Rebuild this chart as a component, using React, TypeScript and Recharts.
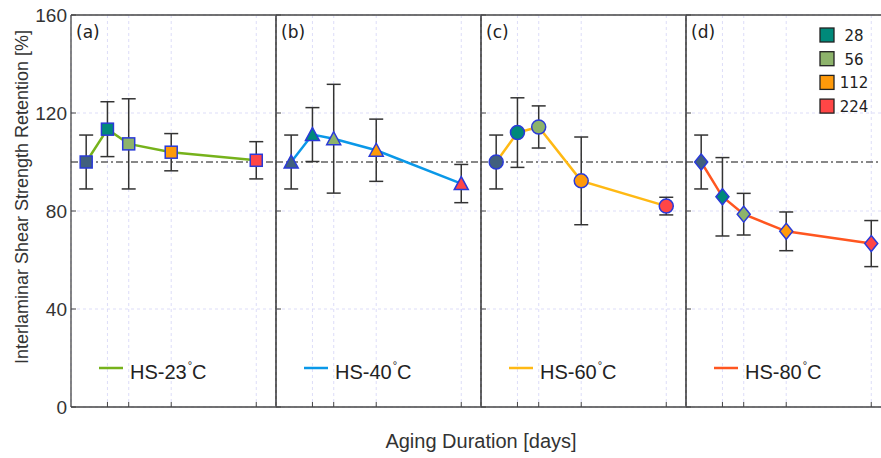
import React from "react";
import { LineChart, Line, XAxis, YAxis, CartesianGrid, ReferenceLine, ErrorBar, Label } from "recharts";

// aging days and per-panel retention values (%) with +/- error
const days = [0, 28, 56, 112, 224];
const dayTicks = [28, 56, 112, 224];
const yTicks = [0, 40, 80, 120, 160];
const legendDays = ["28", "56", "112", "224"];

const hs23 = [100, 113.4, 107.4, 104, 100.7];
const hs23Err = [11, 11.2, 18.4, 7.6, 7.6];
const hs40 = [100, 111.2, 109.5, 104.8, 91.2];
const hs40Err = [11, 11, 22.2, 12.7, 7.8];
const hs60 = [100, 112, 114.3, 92.3, 82];
const hs60Err = [11, 14.2, 8.6, 17.9, 3.6];
const hs80 = [100, 85.8, 78.7, 71.7, 66.7];
const hs80Err = [11, 16, 8.5, 7.9, 9.4];

const markerFills = ["#41607e", "#00897a", "#8db36b", "#ff9a0a", "#ff4646"];
const markerEdge = "#2a3ad8";

const PANEL_W = 205;
const LEFT = 71;
const TOP = 15;
const BOTTOM = 407;

const panels = [
  { tag: "(a)", name: "HS-23", values: hs23, errors: hs23Err, color: "#76b21b", shape: "square" },
  { tag: "(b)", name: "HS-40", values: hs40, errors: hs40Err, color: "#0a98e8", shape: "triangle" },
  { tag: "(c)", name: "HS-60", values: hs60, errors: hs60Err, color: "#ffb914", shape: "circle" },
  { tag: "(d)", name: "HS-80", values: hs80, errors: hs80Err, color: "#ff5620", shape: "diamond" },
];

const font = "'Liberation Sans', Arial, sans-serif";
const axisColor = "#444";

function Marker({ cx, cy, index, shape }: any) {
  const fill = markerFills[index];
  const common = { fill, stroke: markerEdge, strokeWidth: 1.5 };
  if (cx == null || cy == null) return null;
  if (shape === "square") return <rect x={cx - 6} y={cy - 6} width={12} height={12} {...common} />;
  if (shape === "triangle")
    return <polygon points={`${cx},${cy - 7} ${cx - 7},${cy + 6} ${cx + 7},${cy + 6}`} {...common} />;
  if (shape === "circle") return <circle cx={cx} cy={cy} r={7} {...common} />;
  return <polygon points={`${cx},${cy - 8} ${cx + 6.5},${cy} ${cx},${cy + 8} ${cx - 6.5},${cy}`} {...common} />;
}

function Panel({ p, i }: any) {
  const rows = days.map((d, k) => ({ day: d, v: p.values[k], err: p.errors[k] }));
  return (
    <div style={{ position: "absolute", left: i * PANEL_W, top: 0 }}>
      <LineChart width={LEFT + PANEL_W + 5} height={458} data={rows} margin={{ top: 0, right: 0, bottom: 0, left: 0 }}>
        <CartesianGrid stroke="#d4d4f6" strokeDasharray="3 3" strokeWidth={0.8} />
        <XAxis
          dataKey="day"
          type="number"
          domain={[-20, 250]}
          ticks={dayTicks}
          tickFormatter={() => ""}
          tickSize={-5}
          height={458 - BOTTOM}
          axisLine={{ stroke: axisColor, strokeWidth: 1.3 }}
          tickLine={{ stroke: axisColor }}
        />
        <XAxis
          xAxisId="top"
          orientation="top"
          type="number"
          domain={[-20, 250]}
          ticks={dayTicks}
          tickFormatter={() => ""}
          tickSize={-5}
          height={TOP}
          axisLine={{ stroke: axisColor, strokeWidth: 1.3 }}
          tickLine={{ stroke: axisColor }}
        />
        <YAxis
          domain={[0, 160]}
          ticks={yTicks}
          width={LEFT}
          tickSize={-5}
          tickMargin={9}
          tickFormatter={(v: number) => (i === 0 ? String(v) : "")}
          tick={{ fontSize: 19, fill: "#333", fontFamily: font }}
          axisLine={{ stroke: axisColor, strokeWidth: 1.3 }}
          tickLine={{ stroke: axisColor }}
        >
          {i === 0 && (
            <Label
              content={() => (
                <text
                  x={22}
                  y={197}
                  transform="rotate(-90, 22, 197)"
                  textAnchor="middle"
                  dominantBaseline="central"
                  fontSize={18}
                  fontFamily={font}
                  fill="#333"
                >
                  Interlaminar Shear Strength Retention [%]
                </text>
              )}
            />
          )}
        </YAxis>
        <YAxis
          yAxisId="r"
          orientation="right"
          domain={[0, 160]}
          ticks={yTicks}
          width={5}
          tickSize={-5}
          tickFormatter={() => ""}
          axisLine={{ stroke: axisColor, strokeWidth: 1.3 }}
          tickLine={{ stroke: axisColor }}
        />
        <ReferenceLine y={100} stroke="#111" strokeWidth={1} strokeDasharray="7 3 2 3" />
        <Line
          dataKey="v"
          type="linear"
          stroke={p.color}
          strokeWidth={2.5}
          isAnimationActive={false}
          dot={(d: any) => <Marker key={`m-${d.index}`} cx={d.cx} cy={d.cy} index={d.index} shape={p.shape} />}
          activeDot={false}
        >
          <ErrorBar dataKey="err" direction="y" width={7} stroke="#333" strokeWidth={1.5} />
        </Line>
      </LineChart>
    </div>
  );
}

export default function App() {
  return (
    <div style={{ position: "fixed", left: 0, top: 0, width: 881, height: 458, overflow: "hidden", background: "#fff" }}>
      {panels.map((p, i) => (
        <Panel key={p.tag} p={p} i={i} />
      ))}
      <svg width={881} height={458} style={{ position: "absolute", left: 0, top: 0, pointerEvents: "none" }}>
        {panels.map((p, i) => {
          const x0 = LEFT + i * PANEL_W;
          return (
            <g key={p.tag}>
              <text x={x0 + 5} y={38} fontSize={17} fontFamily="'DejaVu Sans', Verdana, sans-serif" fill="#222">
                {p.tag}
              </text>
              <line x1={x0 + 28} x2={x0 + 52} y1={368} y2={368} stroke={p.color} strokeWidth={2.5} />
              <text x={x0 + 59} y={379} fontSize={20} fontFamily={font} fill="#222">
                {p.name}
                <tspan fontSize={11} dy={-10} dx={1}>°</tspan>
                <tspan dy={10}>C</tspan>
              </text>
            </g>
          );
        })}
        {legendDays.map((d, k) => (
          <g key={d}>
            <rect x={820} y={28 + k * 23.7} width={14} height={14} fill={markerFills[k + 1]} stroke="#222" strokeWidth={1.3} />
            <text x={854} y={41 + k * 23.7} textAnchor="middle" fontSize={15} fontFamily="'DejaVu Sans', Verdana, sans-serif" fill="#222">
              {d}
            </text>
          </g>
        ))}
        <text x={481} y={448} textAnchor="middle" fontSize={20} fontFamily={font} fill="#333">
          Aging Duration [days]
        </text>
      </svg>
    </div>
  );
}
